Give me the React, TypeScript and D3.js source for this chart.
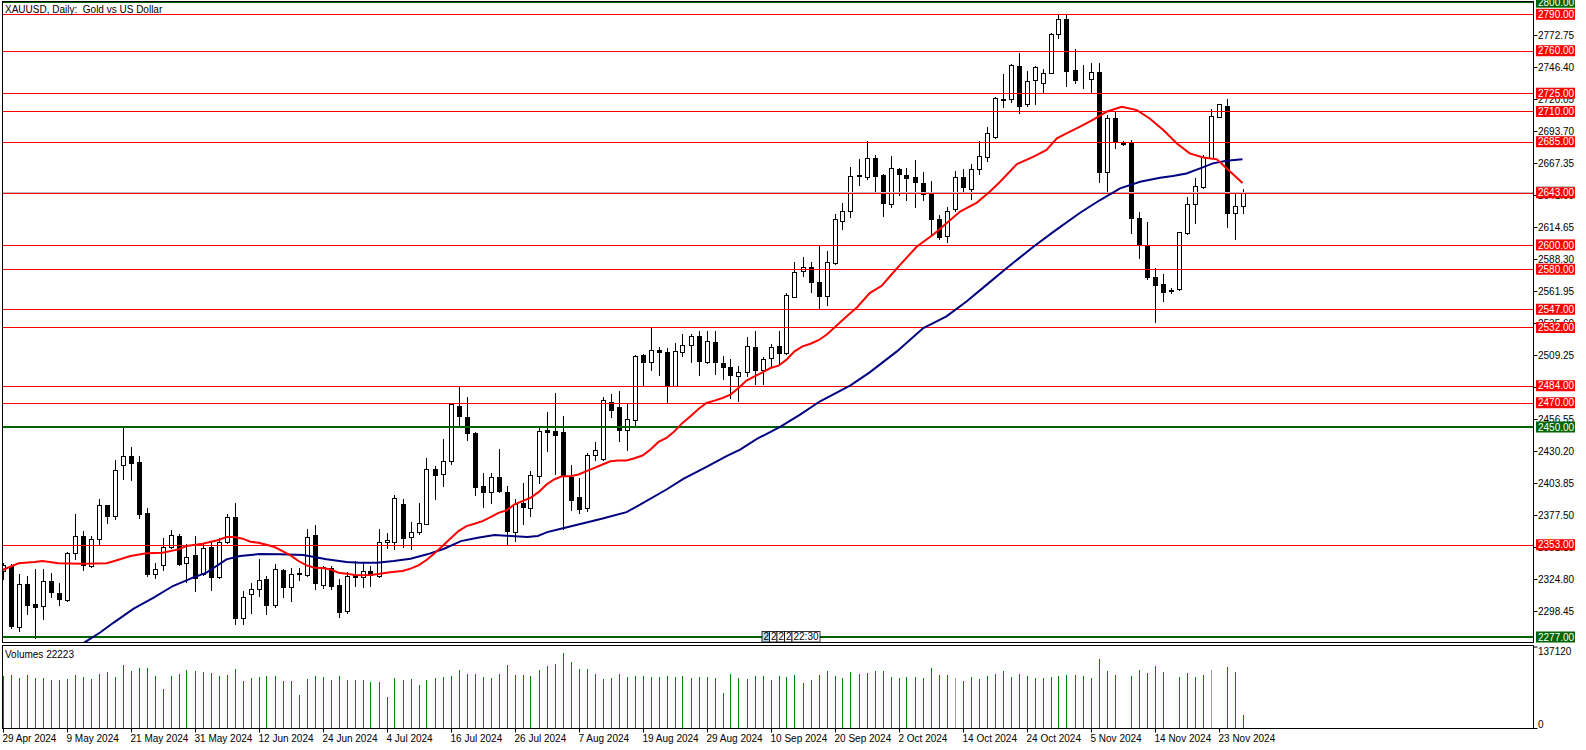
import React from 'react';
import * as d3 from 'd3';

const W = 1586;
const H = 750;

const title = 'XAUUSD, Daily:  Gold vs US Dollar';
const volumeTitle = 'Volumes 22223';

// [open, high, low, close]
const candles: [number, number, number, number][] = [
  [2331.0, 2338.0, 2325.0, 2336.0], [2335.5, 2336.9, 2284.8, 2286.1], [2285.6, 2328.6, 2282.0, 2320.4], [2320.4, 2327.3, 2295.7, 2303.4],
  [2303.9, 2332.8, 2276.0, 2302.0], [2302.6, 2332.7, 2291.6, 2323.1], [2323.1, 2330.0, 2310.3, 2314.1], [2313.6, 2321.8, 2303.4, 2308.6],
  [2307.5, 2347.0, 2306.7, 2346.5], [2346.5, 2378.5, 2341.0, 2360.2], [2360.2, 2364.3, 2332.2, 2336.0], [2335.5, 2360.2, 2335.0, 2358.0],
  [2357.4, 2390.3, 2352.5, 2385.6], [2385.4, 2386.0, 2371.1, 2376.6], [2376.6, 2423.2, 2374.4, 2414.2], [2418.8, 2449.8, 2407.3, 2426.5],
  [2426.5, 2433.6, 2406.2, 2420.5], [2421.3, 2426.5, 2375.2, 2378.5], [2379.3, 2383.5, 2327.3, 2329.2], [2329.2, 2337.7, 2325.9, 2333.3],
  [2336.6, 2358.8, 2332.2, 2351.4], [2351.1, 2364.8, 2350.5, 2361.0], [2360.2, 2362.1, 2336.3, 2337.4], [2338.2, 2353.3, 2322.3, 2343.2],
  [2344.5, 2360.2, 2314.9, 2325.9], [2328.6, 2354.7, 2328.1, 2350.6], [2351.4, 2356.0, 2315.7, 2326.7], [2326.4, 2358.8, 2325.9, 2355.2],
  [2355.5, 2378.5, 2354.7, 2375.8], [2376.1, 2387.6, 2287.5, 2293.0], [2292.4, 2314.9, 2288.1, 2310.0], [2312.2, 2321.8, 2297.1, 2316.8],
  [2316.8, 2341.5, 2310.8, 2323.9], [2324.5, 2327.3, 2296.0, 2303.3], [2303.4, 2336.8, 2301.8, 2332.7], [2331.9, 2332.7, 2310.0, 2318.2],
  [2318.5, 2333.6, 2306.7, 2329.2], [2329.5, 2333.6, 2323.7, 2328.5], [2328.1, 2365.6, 2327.2, 2359.6], [2360.7, 2368.9, 2316.8, 2321.8],
  [2319.9, 2335.5, 2317.1, 2334.6], [2334.1, 2335.5, 2316.3, 2319.0], [2319.6, 2324.5, 2293.5, 2297.6], [2298.5, 2330.8, 2297.1, 2327.2],
  [2328.0, 2339.6, 2319.0, 2326.3], [2326.7, 2338.8, 2318.5, 2331.4], [2331.4, 2335.5, 2319.0, 2328.1], [2327.2, 2365.6, 2326.7, 2355.2],
  [2355.2, 2362.9, 2350.0, 2356.9], [2355.2, 2393.6, 2349.2, 2391.7], [2386.2, 2390.9, 2351.1, 2358.8], [2359.6, 2371.9, 2349.2, 2363.7],
  [2363.4, 2387.0, 2361.5, 2371.1], [2370.3, 2424.6, 2369.7, 2415.5], [2415.5, 2417.7, 2391.1, 2410.3], [2411.4, 2440.5, 2401.3, 2422.4],
  [2421.8, 2469.5, 2419.9, 2469.0], [2467.6, 2483.5, 2452.0, 2458.9], [2458.3, 2474.7, 2439.7, 2445.1], [2445.1, 2446.0, 2393.6, 2400.5],
  [2401.8, 2412.2, 2384.0, 2396.3], [2396.3, 2412.2, 2387.6, 2409.0], [2409.0, 2432.2, 2396.3, 2397.2], [2396.6, 2401.8, 2353.3, 2364.3],
  [2363.7, 2390.9, 2356.0, 2386.7], [2387.6, 2403.5, 2369.7, 2384.0], [2383.5, 2413.6, 2376.6, 2410.6], [2409.5, 2449.8, 2403.5, 2447.1],
  [2447.9, 2462.4, 2430.1, 2445.7], [2447.1, 2478.0, 2411.4, 2443.2], [2445.7, 2459.4, 2366.0, 2410.0], [2408.9, 2418.3, 2381.5, 2389.8],
  [2392.2, 2408.1, 2379.3, 2382.6], [2383.4, 2428.7, 2380.7, 2427.0], [2426.8, 2437.5, 2423.2, 2431.4], [2424.0, 2474.5, 2423.2, 2472.5],
  [2470.6, 2477.5, 2458.0, 2464.3], [2466.2, 2479.9, 2438.3, 2447.3], [2447.3, 2469.8, 2431.4, 2456.7], [2456.1, 2509.6, 2450.6, 2508.2],
  [2509.0, 2510.4, 2484.9, 2503.3], [2503.3, 2532.0, 2497.2, 2513.7], [2513.7, 2515.6, 2493.1, 2511.5], [2511.5, 2515.0, 2469.8, 2484.1],
  [2484.1, 2519.2, 2484.0, 2512.9], [2511.5, 2526.6, 2508.2, 2517.2], [2517.8, 2526.8, 2503.3, 2524.6], [2525.2, 2529.3, 2493.1, 2504.1],
  [2503.5, 2529.3, 2502.7, 2521.1], [2520.0, 2529.3, 2493.9, 2503.3], [2502.7, 2508.2, 2489.8, 2499.1], [2499.4, 2506.0, 2473.9, 2492.6],
  [2491.7, 2500.5, 2471.7, 2495.3], [2495.0, 2523.8, 2491.7, 2517.0], [2515.9, 2529.3, 2485.4, 2496.7], [2496.7, 2507.4, 2485.4, 2506.0],
  [2506.8, 2518.3, 2500.0, 2515.9], [2517.0, 2529.3, 2501.3, 2510.9], [2510.9, 2560.3, 2510.4, 2558.9], [2557.5, 2585.8, 2556.7, 2577.6],
  [2578.6, 2589.9, 2574.8, 2582.2], [2581.7, 2586.3, 2561.1, 2569.3], [2569.3, 2600.0, 2547.4, 2558.1], [2558.1, 2594.8, 2550.7, 2585.6],
  [2585.0, 2625.8, 2584.5, 2621.2], [2619.8, 2634.9, 2613.2, 2628.0], [2628.0, 2664.5, 2622.8, 2656.8], [2656.6, 2670.5, 2649.4, 2657.4],
  [2656.2, 2685.6, 2654.3, 2671.3], [2671.3, 2674.0, 2642.5, 2657.1], [2657.6, 2658.4, 2623.9, 2634.3], [2633.5, 2673.5, 2631.6, 2663.1],
  [2662.5, 2663.6, 2641.2, 2658.2], [2657.6, 2663.6, 2637.0, 2654.9], [2655.7, 2669.9, 2631.6, 2652.1], [2650.8, 2659.8, 2637.0, 2642.0],
  [2642.5, 2652.7, 2608.3, 2621.1], [2621.1, 2624.7, 2604.7, 2606.9], [2607.4, 2631.6, 2602.8, 2628.3], [2629.4, 2661.2, 2628.3, 2656.2],
  [2655.7, 2662.3, 2643.1, 2648.0], [2645.8, 2666.7, 2637.9, 2662.3], [2662.3, 2685.6, 2658.4, 2673.5], [2672.1, 2697.4, 2669.4, 2692.4],
  [2688.6, 2722.0, 2688.0, 2720.7], [2720.5, 2740.7, 2713.8, 2719.4], [2719.9, 2749.0, 2717.9, 2748.6], [2747.5, 2758.5, 2708.3, 2714.6],
  [2715.7, 2743.1, 2714.6, 2735.2], [2735.7, 2747.3, 2716.5, 2746.2], [2733.8, 2745.3, 2725.3, 2742.0], [2742.0, 2774.7, 2741.7, 2774.1],
  [2773.6, 2789.8, 2770.6, 2786.5], [2786.5, 2789.2, 2731.1, 2743.4], [2743.9, 2761.8, 2733.0, 2735.7], [2736.8, 2748.1, 2728.9, 2736.3],
  [2737.1, 2749.5, 2725.3, 2742.6], [2742.6, 2749.5, 2652.1, 2660.3], [2660.3, 2706.9, 2642.5, 2704.2], [2704.2, 2709.7, 2680.1, 2685.0],
  [2684.0, 2685.6, 2682.3, 2683.4], [2683.6, 2686.4, 2610.2, 2622.0], [2622.0, 2626.9, 2589.6, 2600.0], [2599.2, 2618.7, 2572.1, 2573.2],
  [2573.4, 2580.8, 2536.2, 2566.6], [2567.7, 2575.9, 2554.2, 2561.6], [2562.6, 2564.4, 2560.8, 2562.3], [2563.6, 2611.0, 2563.0, 2610.5],
  [2610.2, 2639.8, 2609.1, 2633.5], [2633.5, 2655.4, 2618.4, 2648.8], [2648.0, 2674.0, 2646.6, 2672.7], [2671.9, 2711.6, 2671.3, 2706.1],
  [2705.6, 2716.0, 2705.0, 2715.7], [2714.3, 2720.6, 2615.1, 2626.1], [2626.1, 2642.0, 2605.0, 2632.1], [2632.1, 2645.8, 2626.6, 2643.9],
];

const volumes: number[] = [
  88000, 89200, 84800, 89200, 84800, 84250, 80950, 81500, 82600, 89200, 86460, 82600, 90870, 94170, 85910, 105700,
  95820, 100780, 100780, 87560, 66080, 87560, 91400, 97470, 96370, 94170, 93620, 88110, 88660, 99130, 79300, 84800,
  86460, 87560, 87560, 79300, 79300, 56170, 82600, 87560, 86460, 80950, 87560, 80950, 81500, 80400, 77650, 77650,
  52870, 84250, 81500, 82600, 72690, 80950, 84250, 85910, 87560, 97470, 91970, 90870, 85910, 84250, 90870, 105700,
  89200, 89200, 87560, 97470, 104080, 107390, 125560, 110690, 99130, 99130, 90870, 82600, 84250, 90870, 85910, 87560,
  87560, 85910, 85910, 87560, 85910, 87560, 84250, 85910, 85910, 84250, 59480, 90870, 84250, 82600, 87560, 87560,
  80950, 87560, 85910, 89200, 76000, 80950, 89200, 95820, 87560, 84250, 94170, 90870, 92520, 95820, 95820, 85910,
  84250, 85910, 85910, 84250, 100780, 89200, 89200, 84250, 79300, 85910, 82600, 87560, 90870, 95820, 85910, 90870,
  87560, 84250, 84250, 85910, 87560, 89200, 89200, 87560, 84250, 115650, 95820, 89200, 1650, 87560, 97470, 92520,
  104080, 94170, 1650, 85910, 92520, 85910, 89200, 97470, 1650, 102430, 94170, 23130,
];
const grayVolumeBars = [119, 151];
const volumeMax = 137120;

// moving averages: [bar index, price]
const maRed: [number, number][] = [
  [0, 2332.2], [2, 2337.7], [4, 2338.8], [5, 2339.6], [7, 2337.7], [10, 2337.4], [13, 2337.7], [14, 2339.6], [16, 2343.7],
  [18, 2345.9], [20, 2346.5], [22, 2349.2], [23, 2351.9], [25, 2353.9], [27, 2356.9], [28, 2359.3], [29, 2359.3], [30, 2358.0],
  [31, 2355.5], [32, 2354.7], [33, 2353.0], [34, 2351.1], [35, 2347.8], [36, 2344.2], [37, 2339.6], [38, 2336.0], [39, 2334.1],
  [40, 2333.8], [41, 2332.7], [42, 2330.0], [43, 2329.2], [44, 2328.1], [45, 2327.8], [46, 2328.1], [47, 2328.9], [48, 2330.0],
  [49, 2330.8], [50, 2331.4], [51, 2333.3], [52, 2336.0], [53, 2340.4], [54, 2345.9], [55, 2351.9], [56, 2358.2], [57, 2364.3],
  [58, 2368.4], [59, 2370.3], [60, 2372.5], [61, 2375.8], [62, 2379.3], [63, 2381.3], [64, 2386.2], [65, 2388.9], [66, 2391.7],
  [67, 2396.3], [68, 2402.6], [69, 2407.0], [70, 2409.5], [71, 2409.5], [72, 2410.9], [73, 2413.6], [74, 2416.3], [75, 2419.1],
  [76, 2421.8], [77, 2422.4], [78, 2422.4], [79, 2424.3], [80, 2426.5], [81, 2431.4], [82, 2437.7], [83, 2441.0], [84, 2446.5],
  [85, 2453.4], [86, 2458.9], [87, 2464.9], [88, 2469.8], [89, 2471.7], [90, 2473.9], [91, 2476.7], [92, 2482.1], [93, 2488.2],
  [94, 2491.7], [95, 2495.0], [96, 2498.6], [97, 2500.5], [98, 2505.5], [99, 2512.3], [100, 2516.4], [101, 2518.6], [102, 2521.5],
  [103, 2526.0], [104, 2532.0], [105.5, 2541.1], [106.8, 2548.5], [108.4, 2560.3], [109.9, 2566.3], [110.9, 2574.0], [112.2, 2583.6],
  [114.3, 2598.7], [116.4, 2608.8], [118, 2617.9], [119.7, 2627.5], [121.8, 2634.9], [123.4, 2643.9], [124.7, 2652.0], [126.8, 2666.7],
  [128.9, 2672.7], [130.5, 2678.2], [131.8, 2687.8], [133, 2691.9], [134.7, 2697.5], [136.4, 2703.4], [138, 2709.7], [139.9, 2713.8],
  [141.8, 2711.1], [143.4, 2704.2], [145.1, 2694.6], [146.8, 2683.6], [148.4, 2675.4], [150.1, 2672.1], [151.8, 2670.5], [153, 2663.1],
  [155, 2651.0],
];

const maBlue: [number, number][] = [
  [10.0, 2271.5], [10.9, 2275.2], [12.2, 2280.7], [13.9, 2288.9], [16.4, 2300.4], [18.9, 2309.4], [21.3, 2319.0], [23.8, 2325.9],
  [25.5, 2330.0], [28, 2341.0], [29.7, 2343.7], [32.2, 2345.4], [34.7, 2345.1], [37.6, 2344.5], [38.8, 2343.2], [40.5, 2341.0],
  [43, 2338.8], [44.7, 2338.2], [46.8, 2338.2], [48.9, 2339.6], [51, 2341.5], [53.1, 2345.1], [55.2, 2349.7], [57.3, 2356.0],
  [59.4, 2358.8], [61.5, 2361.0], [63.5, 2360.2], [65.6, 2359.3], [66.9, 2360.2], [68.1, 2363.4], [69.8, 2366.2], [74.9, 2374.4],
  [78, 2379.9], [79.7, 2386.0], [83, 2398.5], [85.1, 2407.3], [88, 2417.2], [90.5, 2426.0], [92.2, 2431.4], [94.3, 2440.2],
  [97.2, 2450.1], [99.7, 2460.2], [102.2, 2471.2], [106, 2484.3], [108.4, 2495.0], [111.8, 2512.3], [115.1, 2531.5], [118, 2541.1],
  [120.5, 2553.4], [123, 2567.1], [125.5, 2580.8], [128.9, 2598.7], [131.4, 2611.0], [134.7, 2626.5], [137.2, 2637.0], [139.7, 2646.6],
  [142.2, 2652.1], [144.7, 2655.4], [146.3, 2656.8], [148, 2658.9], [149.7, 2663.1], [151.3, 2667.2], [153, 2669.4], [155, 2670.5],
];

const redLevels = [2790, 2760, 2725, 2710, 2685, 2643, 2600, 2580, 2547, 2532, 2484, 2470, 2353];
const greenLevels = [2800, 2450, 2277];
const bidPrice = 2644.0;

const priceTicks = [
  2772.75, 2746.4, 2720.05, 2693.7, 2667.35, 2641.0, 2614.65, 2588.3, 2561.95, 2535.6, 2509.25,
  2482.9, 2456.55, 2430.2, 2403.85, 2377.5, 2351.15, 2324.8, 2298.45,
];

const dateLabels = [
  '29 Apr 2024', '9 May 2024', '21 May 2024', '31 May 2024', '12 Jun 2024', '24 Jun 2024', '4 Jul 2024',
  '16 Jul 2024', '26 Jul 2024', '7 Aug 2024', '19 Aug 2024', '29 Aug 2024', '10 Sep 2024', '20 Sep 2024',
  '2 Oct 2024', '14 Oct 2024', '24 Oct 2024', '5 Nov 2024', '14 Nov 2024', '23 Nov 2024',
];
const dateLabelStep = 8;

const markerLabels = ['2', '2', '2', '2', '22:30'];

const FONT = '"Liberation Sans", Arial, sans-serif';

export default function App() {
  const left = 2.5;
  const right = 1533.5;
  const mainTop = 1.5;
  const mainBottom = 642.5;
  const volTop = 645.5;
  const volBottom = 728.5;

  const x = d3.scaleLinear().domain([0, candles.length - 1]).range([2.5, 2.5 + 8 * (candles.length - 1)]);
  const y = d3.scaleLinear().domain([2277, 2790]).range([637, 14.3]);
  const yv = d3.scaleLinear().domain([0, volumeMax]).range([volBottom, 646.5]);

  const line = d3
    .line<[number, number]>()
    .x((d) => x(d[0]))
    .y((d) => y(d[1]))
    .curve(d3.curveLinear);

  const px = (v: number) => Math.round(v) + 0.5;

  const labelBox = (price: number, fill: string, key: string) => {
    const cy = y(price);
    return (
      <g key={key}>
        <rect x={1536} y={cy - 5.5} width={39} height={11} fill={fill} />
        <text x={1538} y={cy + 3.6} fontSize={10} fill="#ffffff" fontFamily={FONT}>
          {price.toFixed(2)}
        </text>
      </g>
    );
  };

  let mx = 762;
  const markers = markerLabels.map((t, k) => {
    const w = t.length > 1 ? 28 : 7.5;
    const g = (
      <g key={'m' + k}>
        <rect x={mx} y={631.5} width={w} height={10.5} fill={k === 0 ? '#add8e6' : '#ffffff'} stroke="#000" strokeWidth={0.8} />
        <text x={mx + 1.5} y={640} fontSize={10} fontFamily={FONT} fill="#000">{t}</text>
      </g>
    );
    mx += w;
    return g;
  });

  return (
    <svg width={W} height={H} style={{ position: 'absolute', left: 0, top: 0, background: '#fff' }}>
      <defs>
        <clipPath id="mainClip">
          <rect x={left} y={mainTop} width={right - left} height={mainBottom - mainTop} />
        </clipPath>
        <clipPath id="volClip">
          <rect x={left} y={volTop} width={right - left} height={volBottom - volTop} />
        </clipPath>
      </defs>
      <rect x={0} y={0} width={W} height={H} fill="#fff" />

      <g clipPath="url(#mainClip)">
        {candles.map((c, i) => {
          const [o, h, l, cl] = c;
          const cx = px(x(i));
          const top = Math.round(y(Math.max(o, cl)));
          const bot = Math.round(y(Math.min(o, cl)));
          const bull = cl >= o;
          return (
            <g key={'c' + i}>
              <line x1={cx} x2={cx} y1={Math.round(y(h))} y2={Math.round(y(l)) + 1} stroke="#000" strokeWidth={1} />
              <rect
                x={cx - 2}
                y={top + 0.5}
                width={4}
                height={Math.max(bot - top, 0)}
                fill={bull ? '#fff' : '#000'}
                stroke="#000"
                strokeWidth={1}
              />
            </g>
          );
        })}

        <line x1={left} x2={right} y1={px(y(bidPrice))} y2={px(y(bidPrice))} stroke="#c0c0c0" strokeWidth={1} />
        {redLevels.map((p) => (
          <line key={'r' + p} x1={left} x2={right} y1={px(y(p))} y2={px(y(p))} stroke="#ff0000" strokeWidth={1} />
        ))}
        {greenLevels.map((p) => (
          <line key={'g' + p} x1={left} x2={right} y1={Math.round(y(p))} y2={Math.round(y(p))} stroke="#006400" strokeWidth={2} />
        ))}

        <path d={line(maBlue) || ''} fill="none" stroke="#000080" strokeWidth={2} />
        <path d={line(maRed) || ''} fill="none" stroke="#ff0000" strokeWidth={2} />

        {markers}
      </g>

      <g clipPath="url(#volClip)">
        {volumes.map((v, i) => (
          <line
            key={'v' + i}
            x1={px(x(i))}
            x2={px(x(i))}
            y1={volBottom}
            y2={Math.round(yv(v))}
            stroke={grayVolumeBars.includes(i) ? '#a0a0a0' : '#008000'}
            strokeWidth={1}
          />
        ))}
      </g>

      <rect x={left} y={mainTop} width={right - left} height={mainBottom - mainTop} fill="none" stroke="#000" strokeWidth={1} />
      <rect x={left} y={volTop} width={right - left} height={volBottom - volTop} fill="none" stroke="#000" strokeWidth={1} />

      <text x={5} y={12.5} fontSize={10} fontFamily={FONT} fill="#000" style={{ whiteSpace: 'pre' }} xmlSpace="preserve">
        {title}
      </text>
      <text x={5} y={658} fontSize={10} fontFamily={FONT} fill="#000">{volumeTitle}</text>

      {priceTicks.map((t) => (
        <g key={'t' + t}>
          <line x1={right} x2={right + 4} y1={px(y(t))} y2={px(y(t))} stroke="#000" strokeWidth={1} />
          <text x={1538} y={y(t) + 3.6} fontSize={10} fontFamily={FONT} fill="#000">{t.toFixed(2)}</text>
        </g>
      ))}

      <rect x={1536} y={y(bidPrice) - 5.5} width={39} height={11} fill="#c0c0c0" />
      {redLevels.map((p) => labelBox(p, '#ff0000', 'lr' + p))}
      {greenLevels.map((p) => labelBox(p, '#006400', 'lg' + p))}

      <line x1={right} x2={right + 4} y1={647} y2={647} stroke="#000" strokeWidth={1} />
      <text x={1538} y={654.5} fontSize={10} fontFamily={FONT} fill="#000">{volumeMax}</text>
      <line x1={right} x2={right + 4} y1={volBottom} y2={volBottom} stroke="#000" strokeWidth={1} />
      <text x={1538} y={727.5} fontSize={10} fontFamily={FONT} fill="#000">0</text>

      {dateLabels.map((d, k) => {
        const xi = px(x(k * dateLabelStep));
        return (
          <g key={'d' + k}>
            <line x1={xi} x2={xi} y1={volBottom} y2={volBottom + 4} stroke="#000" strokeWidth={1} />
            <text x={xi - 1} y={742} fontSize={10} fontFamily={FONT} fill="#000">{d}</text>
          </g>
        );
      })}
    </svg>
  );
}
